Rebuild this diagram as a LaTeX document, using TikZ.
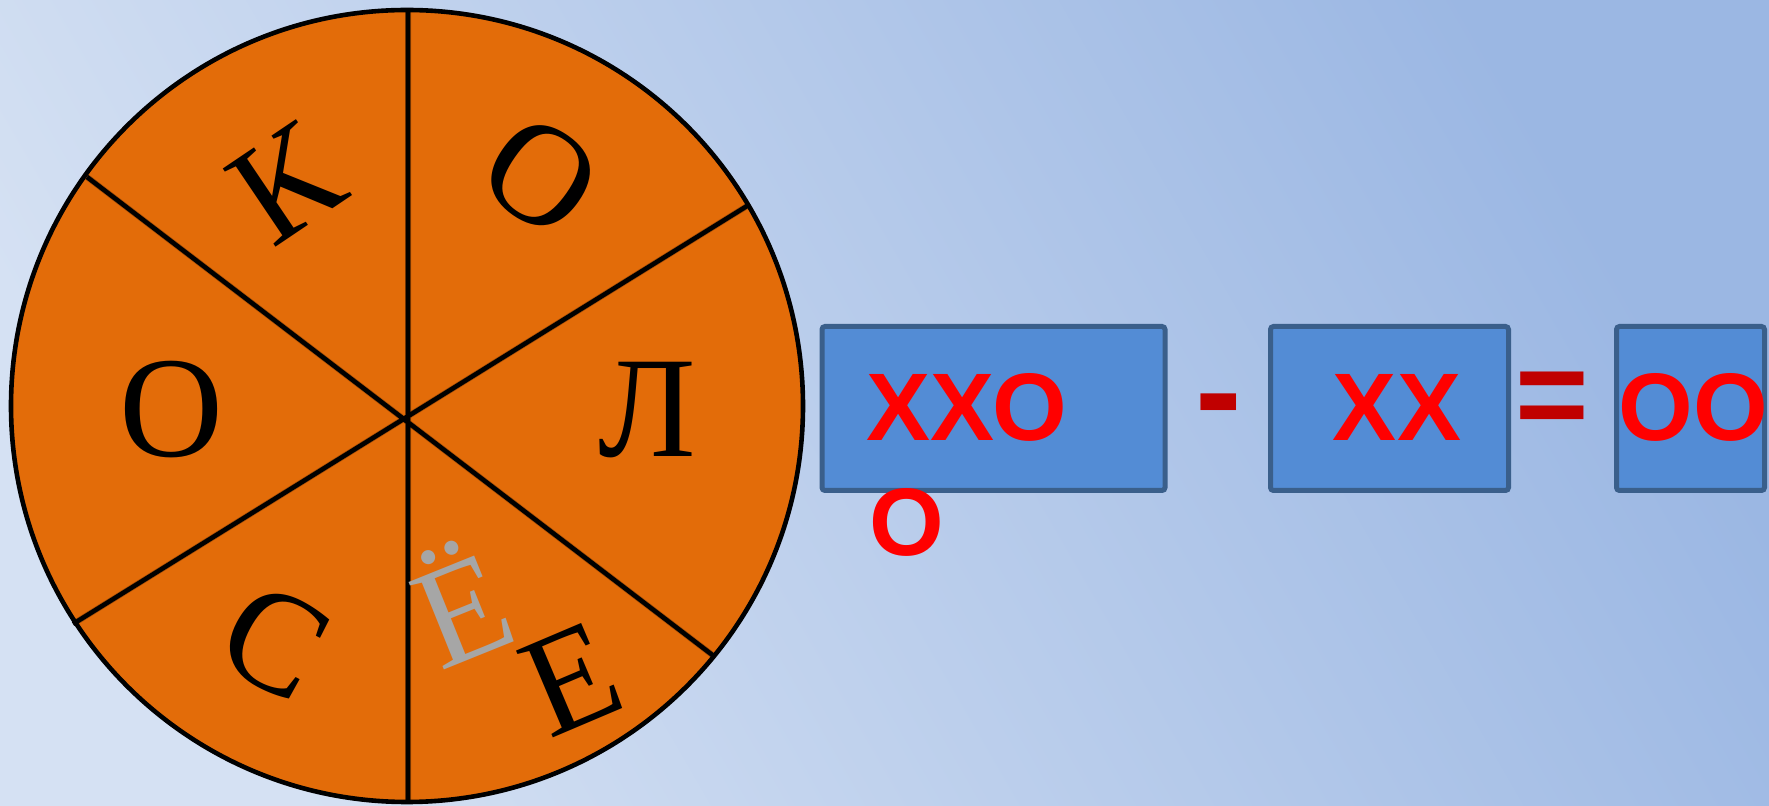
\documentclass[tikz,border=0pt]{standalone}
\usepackage{fontspec}
\setmainfont{Liberation Serif}
\newfontfamily\boxfont{Liberation Sans}
\usetikzlibrary{positioning,calc}
\definecolor{BgLight}{HTML}{D5E1F3}
\definecolor{BgDark}{HTML}{9BB7E3}
\definecolor{WheelOrange}{HTML}{E36C09}
\definecolor{BoxBlue}{HTML}{538CD5}
\definecolor{BoxEdge}{HTML}{3A5F8B}
\definecolor{SignRed}{HTML}{C00000}
\definecolor{FadeGray}{HTML}{A6A6A6}

\begin{document}
\begin{tikzpicture}[x=0.5pt,y=-0.5pt,
  letter/.style={inner sep=0pt,font=\fontsize{72}{80}\selectfont},
  digitbox/.style={draw=BoxEdge,line width=2.5pt,fill=BoxBlue,rounded corners=1.5pt,
    minimum height=82pt,inner sep=0pt},
  code/.style={inner sep=0pt,text=red,font=\boxfont\bfseries\fontsize{48}{52}\selectfont},
  sign/.style={inner sep=0pt,text=SignRed,font=\boxfont\bfseries\fontsize{#1}{#1}\selectfont}]
\shade[top color=BgDark,bottom color=BgLight,shading angle=-60] (0,0) rectangle (1769,806);

% the wheel
\coordinate (hub) at (407,406);
\filldraw[fill=WheelOrange,line width=2.3pt] (hub) circle[radius=396];
\coordinate (spokeN) at (408,10);
\coordinate (spokeS) at (408,802);
\coordinate (spokeNW) at (87,177);
\coordinate (spokeSE) at (715,657);
\coordinate (spokeNE) at (747,206);
\coordinate (spokeSW) at (73,624);
\begin{scope}
\clip (hub) circle[radius=394];
\draw[line width=3pt,black,opacity=0.25,shift={(2,4)}]
  (spokeN) -- (spokeS) (spokeNW) -- (spokeSE) (spokeNE) -- (spokeSW);
\end{scope}
\draw[line width=2.3pt] (spokeN) -- (spokeS) (spokeNW) -- (spokeSE) (spokeNE) -- (spokeSW);

\node[letter,rotate=34] (k) at (286,184) {К};
\node[letter,rotate=-35] (o1) at (541,176) {О};
\node[letter] (l) at (647,410) {Л};
\node[letter,rotate=22,text=FadeGray] (yo) at (459,601) {Ё};
\node[letter,rotate=23] (e) at (572,679) {Е};
\node[letter,rotate=-28] (c) at (275,642) {С};
\node[letter] (o2) at (171,410) {О};

% the sum
\node[digitbox,minimum width=171.5pt] (box1) at (993.5,408.5) {};
\node[digitbox,minimum width=119pt] (box2) at (1389.5,408.5) {};
\node[digitbox,minimum width=74pt] (box3) at (1690.5,408.5) {};
\node[code] (w1) at (967,407) {ХХО};
\node[code] (w1b) at (906.5,522) {О};
\node[sign=70] (minus) at (1219,416.5) {-};
\node[code] (w2) at (1397,407) {ХХ};
\node[sign=63] (eq) at (1552.5,404.5) {=};
\node[code] (w3) at (1693.5,407) {ОО};
\end{tikzpicture}
\end{document}
